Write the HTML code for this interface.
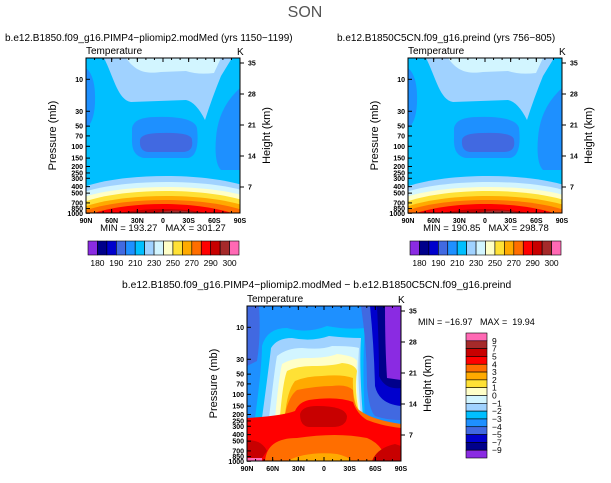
<!DOCTYPE html>
<html><head><meta charset="utf-8"><style>
body{margin:0;background:#fff;}
svg text{font-family:"Liberation Sans",sans-serif;}
</style></head><body>
<svg id="c" width="611" height="478" xmlns="http://www.w3.org/2000/svg">
<text x="305" y="17" font-size="16" fill="#555" text-anchor="middle">SON</text>
</svg>
<script>
const colors=["#8a2be2","#00008b","#0000cd","#4169e1","#1e90ff","#00bfff","#a0d2ff","#d2f5ff","#ffffc8","#ffe135","#ffaa00","#ff6e00","#ff0000","#c80000","#a52a2a","#ff69b4"];
const absLabels=["180","190","210","230","250","270","290","300"];
const diffLabels=["9","7","5","4","3","2","1","0","−1","−2","−3","−4","−5","−7","−9"];
const pTicks=[10,30,50,70,100,150,200,250,300,400,500,700,850,1000];
const hTicks=[35,28,21,14,7];
const latTicks=["90N","60N","30N","0","30S","60S","90S"];
const minMax=["MIN = 193.27\u00a0\u00a0 MAX = 301.27","MIN = 190.85\u00a0\u00a0 MAX = 298.78","MIN = −16.97\u00a0\u00a0 MAX =\u00a0 19.94"];
const titles=["b.e12.B1850.f09_g16.PIMP4−pliomip2.modMed (yrs 1150−1199)","b.e12.B1850C5CN.f09_g16.preind (yrs 756−805)","b.e12.B1850.f09_g16.PIMP4−pliomip2.modMed − b.e12.B1850C5CN.f09_g16.preind"];
// lower-troposphere band levels: [colorIndex, leftEdgeY, centerY, rightEdgeY]
const bandLevels=[[6,130,118,128],[7,135,124,133],[8,140,129,138],[9,145,133,143],[10,150,138,148],[11,154,142,153],[12,160,146,160],[13,168,151,168]];
const svg=document.getElementById('c');
const NS="http://www.w3.org/2000/svg";
function mk(t,a,p){const e=document.createElementNS(NS,t);for(const k in a)e.setAttribute(k,a[k]);(p||svg).appendChild(e);return e;}
const W=154,H=155;
function pyL(p){return 21.3+(Math.log10(p)-1)*67;}
function panel(x0,y0,kind,name){
  const g=mk('g',{transform:`translate(${x0},${y0})`});
  
  
  const cp=mk('clipPath',{id:'cp'+name},g);mk('rect',{x:0,y:0,width:W,height:H},cp);
  const f=mk('g',{'clip-path':`url(#cp${name})`},g);
  const P=(d,c)=>mk('path',{d:d,fill:colors[c]},f);
  if(kind<2){
    P(`M0 0H${W}V${H}H0Z`,5);
    P("M18 0 C28 20 32 42 45 44 L100 42 Q110 44 119 62 Q126 40 135 18 L146 0Z",6);
    P("M40 0 C50 14 60 16 75 14 L100 13 Q112 17 128 15 L135 0Z",7);
    P("M0 10 Q10 18 9 45 Q8 65 0 70Z",4);
    P("M154 30 Q132 50 130 80 Q128 105 135 112 L154 112Z",4);
    P("M46 70 Q48 59 70 59 Q108 58 111 70 Q114 98 102 100 L58 100 Q45 98 46 80Z",4);
    P("M54 82 Q55 75 75 75 Q106 74 106 82 Q108 94 96 94 L62 94 Q53 93 54 82Z",3);
    bandLevels.forEach(b=>{const cy=(4*b[2]-(b[1]+b[3])/2)/3;
      P(`M-5 ${b[1]} C35 ${cy} 119 ${cy} 159 ${b[3]} V${H+5} H-5Z`,b[0]);});
    P("M65 156 Q90 149 115 156Z",14);
  } else {
    P(`M0 0H${W}V${H}H0Z`,4);
    P("M0 0 H12 Q14 30 10 55 L0 60Z",3);
    P("M8 112 Q15 60 15 40 Q20 22 40 22 Q60 28 80 20 Q100 24 118 22 Q115 60 118 112Z",5);
    P("M15 112 Q22 60 24 42 Q30 32 45 32 Q65 36 82 30 Q100 32 114 32 Q112 60 116 112Z",6);
    P("M22 112 Q28 60 30 50 Q40 42 55 42 Q75 44 85 40 Q105 40 112 42 Q110 70 114 110Z",7);
    P("M28 112 Q32 70 35 58 Q45 52 60 52 Q80 52 90 48 Q108 50 110 55 Q108 80 113 108Z",8);
    P("M33 110 Q36 75 40 65 Q50 60 65 60 Q85 60 95 57 Q108 58 110 65 Q107 85 112 106Z",9);
    P("M38 110 Q40 85 48 75 Q60 70 75 70 Q95 68 106 72 Q105 90 111 105Z",10);
    P("M0 116 Q30 114 38 108 Q42 90 50 84 Q70 80 85 80 Q100 78 106 84 Q106 98 112 104 Q125 114 154 118 V155 H0Z",11);
    P("M0 112 Q35 110 48 105 Q52 96 62 94 Q90 90 106 96 Q110 108 120 114 Q135 120 154 122 V155 H0Z",12);
    P("M18 155 Q20 132 50 132 Q90 126 120 132 Q135 138 140 155Z",11);
    P("M40 155 Q60 145 90 148 Q100 150 105 155Z",10);
    P("M53 108 Q55 100 70 100 Q98 100 100 110 Q100 121 85 121 L62 121 Q53 120 53 108Z",13);
    P("M0 134 Q15 134 20 145 L15 152 L0 152Z",13);
    P("M0 152 H15 V155 H0Z",15);
    P("M125 155 Q130 142 148 138 L154 140 V155Z",13);
    P("M114 0 Q120 40 120 80 Q122 104 128 110 Q140 114 154 114 V0Z",3);
    P("M123 0 Q127 40 128 80 Q132 98 154 100 V0Z",2);
    P("M130 0 Q132 40 132 70 Q138 84 154 82 V0Z",1);
    P("M138 0 Q138 40 140 72 L154 74 V0Z",0);
  }
  mk('rect',{x:0,y:0,width:W,height:H,fill:'none',stroke:'#000','stroke-width':1},g);
  latTicks.forEach((l,i)=>{const x=i*W/6;
    mk('line',{x1:x,y1:H,x2:x,y2:H-4,stroke:'#000'},g);mk('line',{x1:x,y1:0,x2:x,y2:4,stroke:'#000'},g);
    const t=mk('text',{x:x,y:H+10,'font-size':7,'text-anchor':'middle','font-weight':'bold'},g);t.textContent=l;
    });
  for(let i=1;i<18;i++){const x=i*W/18;mk('line',{x1:x,y1:H,x2:x,y2:H-2,stroke:'#000'},g);mk('line',{x1:x,y1:0,x2:x,y2:2,stroke:'#000'},g);}
  pTicks.forEach(p=>{const y=pyL(p);mk('line',{x1:0,y1:y,x2:4,y2:y,stroke:'#000'},g);
    const t=mk('text',{x:-3,y:y+2.5,'font-size':7,'text-anchor':'end','font-weight':'bold'},g);t.textContent=p;
    });
  hTicks.forEach((h,i)=>{const y=5+i*31;mk('line',{x1:W,y1:y,x2:W+4,y2:y,stroke:'#000'},g);
    const t=mk('text',{x:W+8,y:y+2.5,'font-size':7,'font-weight':'bold'},g);t.textContent=h;
    });
  let t=mk('text',{x:0,y:-4,'font-size':10},g);t.textContent="Temperature";
  t=mk('text',{x:W-3,y:-3,'font-size':10},g);t.textContent="K";
  t=mk('text',{x:-30,y:H/2,'font-size':11,'text-anchor':'middle',transform:`rotate(-90 -30 ${H/2})`},g);t.textContent="Pressure (mb)";
  t=mk('text',{x:W+30,y:H/2,'font-size':11,'text-anchor':'middle',transform:`rotate(-90 ${W+30} ${H/2})`},g);t.textContent="Height (km)";
  return g;
}
function txt(x,y,s,sz,name,anchor){const t=mk('text',{x:x,y:y,'font-size':sz,'text-anchor':anchor||'start'});t.textContent=s;}
panel(86,58,0,'pliocene-panel');panel(408,58,1,'preind-panel');panel(247,306,2,'difference-panel');
txt(5,41,titles[0],10,'left-panel-title');txt(337,41,titles[1],10,'right-panel-title');txt(122,288,titles[2],10.3,'difference-title');
txt(163,231,minMax[0],9.5,'left-min-max','middle');txt(486,231,minMax[1],9.5,'right-min-max','middle');txt(418,325,minMax[2],9,'diff-min-max');
function hbar(x0,y0,w,name){const g=mk('g',{});
  const bw=w/colors.length;
  colors.forEach((c,i)=>{const r=mk('rect',{x:x0+i*bw,y:y0,width:bw,height:14,fill:c,stroke:'#000','stroke-width':0.6},g);});
  absLabels.forEach((l,i)=>{const t=mk('text',{x:x0+bw*(1+2*i),y:y0+25,'font-size':8.5,'text-anchor':'middle'},g);t.textContent=l;});}
hbar(88,241,151,'left-colorbar');hbar(410,241,151,'right-colorbar');
(function(){const g=mk('g',{});
  const x0=466,y0=333,h=125/16;const rev=colors.slice().reverse();
  rev.forEach((c,i)=>{const r=mk('rect',{x:x0,y:y0+i*h,width:21,height:h,fill:c,stroke:'#000','stroke-width':0.6},g);});
  diffLabels.forEach((l,i)=>{const t=mk('text',{x:x0+26,y:y0+(i+1)*h+3,'font-size':8.5},g);t.textContent=l;});})();
</script>
</body></html>
